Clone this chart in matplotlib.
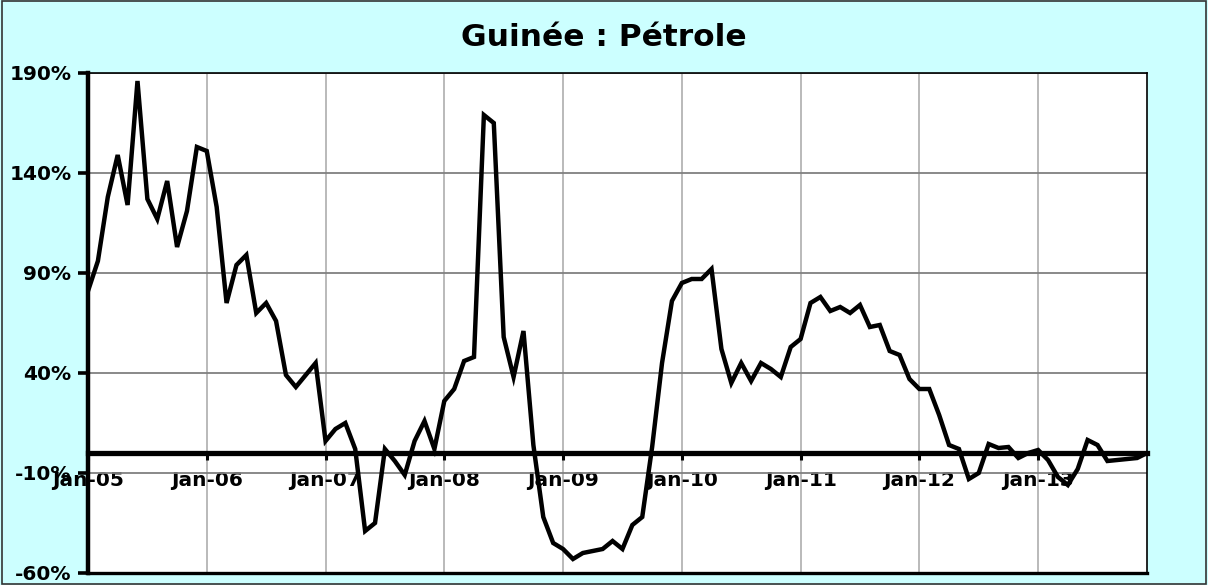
import numpy as np
import matplotlib
matplotlib.use('Agg')
import matplotlib.pyplot as plt
from matplotlib.patches import Rectangle

# monthly values (%), Jan-05 .. Dec-13
petrole = [81, 96, 128, 149, 124, 186, 127, 117, 136, 103, 121, 153,
           151, 123, 75, 94, 99, 70, 75, 66, 39, 33, 39, 45,
           6, 12, 15, 2, -39, -35, 2, -4, -11, 6, 16, 2,
           26, 32, 46, 48, 169, 165, 58, 38, 61, 4, -32, -45,
           -48, -53, -50, -49, -48, -44, -48, -36, -32, 3, 45, 76,
           85, 87, 87, 92, 52, 35, 45, 36, 45, 42, 38, 53,
           57, 75, 78, 71, 73, 70, 74, 63, 64, 51, 49, 37,
           32, 32, 19, 4, 2, -13, -10, 4.5, 2.5, 3, -2.5, 0,
           1.5, -3.5, -12, -16, -8, 6.5, 4, -4, -3.5, -3, -2.5, 0]

year_labels = ['Jan-05', 'Jan-06', 'Jan-07', 'Jan-08', 'Jan-09',
               'Jan-10', 'Jan-11', 'Jan-12', 'Jan-13']
y_ticks = [-60, -10, 40, 90, 140, 190]
y_labels = ['-60%', '-10%', '40%', '90%', '140%', '190%']

months = np.arange(len(petrole))

bg = '#ccffff'
fig = plt.figure(figsize=(12.08, 5.85), dpi=100, facecolor=bg)
ax = fig.add_axes([88/1208, 12/585, (1147-88)/1208, (573-73)/585])
ax.set_facecolor('white')

ax.plot(months, petrole, color='black', lw=3.2, solid_joinstyle='miter', zorder=3)

ax.set_xlim(0, len(petrole) - 1)
ax.set_ylim(-60, 190)

ax.set_xticks(months[::12])
ax.set_xticklabels(year_labels)
ax.set_yticks(y_ticks)
ax.set_yticklabels(y_labels)

# grid
ax.set_axisbelow(True)
ax.xaxis.grid(True, color='#b4b4b4', lw=1.3)
ax.yaxis.grid(True, color='#808080', lw=1.3)

# x axis sits on zero
ax.spines['bottom'].set_position(('data', 0))
ax.spines['bottom'].set_linewidth(3.8)
ax.spines['left'].set_linewidth(3.2)
ax.spines['top'].set_linewidth(1.2)
ax.spines['right'].set_linewidth(1.2)
ax.axhline(-60, color='black', lw=2.4, clip_on=False, zorder=4)

ax.tick_params(axis='x', direction='out', length=5, width=2.2, pad=8)
ax.tick_params(axis='y', direction='out', length=7, width=2.6, pad=5)
for lab in ax.get_xticklabels() + ax.get_yticklabels():
    lab.set_fontweight('bold')
    lab.set_fontsize(14.5)
    lab.set_family('DejaVu Sans')

fig.text(0.5, 1 - 38/585, 'Guinée : Pétrole', ha='center', va='center',
         fontsize=22.5, fontweight='bold', family='DejaVu Sans')

# outer border
fig.patches.append(Rectangle((0.002, 0.002), 0.996, 0.996, transform=fig.transFigure,
                             fill=False, edgecolor='#333333', lw=1.2))

plt.savefig('out.png', dpi=100, facecolor=bg)
